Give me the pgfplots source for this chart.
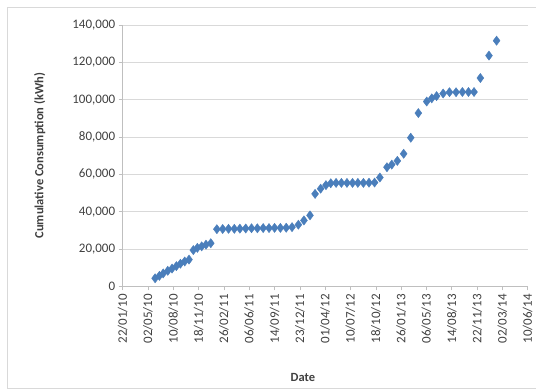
\documentclass[border=0pt]{standalone}
\usepackage{pgfplots}
\pgfplotsset{compat=1.18}
\usepackage{fontspec}
\setmainfont{Carlito}

\definecolor{markblue}{HTML}{4A7EBB}
\definecolor{gridgray}{HTML}{D9D9D9}
\definecolor{axisgray}{HTML}{BFBFBF}
\definecolor{textgray}{HTML}{404040}

% Cumulative meter readings: Excel date serial, kWh
\pgfplotstableread{
date value
40328 4300
40345 5600
40360 6900
40378 8300
40395 9500
40412 10800
40428 12100
40445 13300
40462 14300
40479 19400
40495 20600
40512 21400
40529 22300
40548 23100
40572 30600
40595 30700
40618 30800
40641 30800
40663 30900
40686 31000
40709 31100
40732 31100
40755 31200
40778 31200
40800 31300
40823 31300
40846 31400
40869 31700
40894 33000
40916 35300
40940 38000
40960 49500
40982 52300
41003 54200
41022 55200
41043 55400
41064 55400
41086 55400
41108 55400
41129 55400
41151 55400
41173 55500
41195 55600
41216 58300
41244 63800
41263 65200
41285 67200
41310 71000
41338 79600
41368 92800
41401 99000
41421 100700
41440 101900
41466 103300
41491 104000
41517 104000
41542 104100
41566 104100
41588 104100
41613 111600
41647 123600
41677 131600
}\readings

\begin{document}
\begin{tikzpicture}
% page: 536 x 389, plot area's lower-left corner at (122.7, 102.7)
\useasboundingbox (-122.7pt,-102.7pt) rectangle (413.3pt,286.3pt);
\draw[gridgray, line width=0.8pt] (-115.7pt,-101.7pt) rectangle (422.3pt,279.3pt);
\begin{axis}[
  scale only axis, width=405pt, height=261.3pt,
  xmin=40200, xmax=41800, ymin=0, ymax=140000,
  xtick={40200,40300,...,41800},
  xticklabels={22/01/10,02/05/10,10/08/10,18/11/10,26/02/11,06/06/11,14/09/11,23/12/11,01/04/12,10/07/12,18/10/12,26/01/13,06/05/13,14/08/13,22/11/13,02/03/14,10/06/14},
  ytick={0,20000,...,140000},
  scaled x ticks=false, scaled y ticks=false,
  /pgf/number format/fixed,
  /pgf/number format/1000 sep={,},
  /pgf/number format/assume math mode=true,
  x tick label style={rotate=90, anchor=east, font=\fontsize{13}{15}\selectfont, text=textgray},
  y tick label style={font=\fontsize{13}{15}\selectfont, text=textgray},
  axis line style={axisgray},
  axis x line*=bottom, axis y line*=left,
  tick style={axisgray, line width=0.6pt},
  tick align=outside, major tick length=4pt,
  ymajorgrids, grid style={gridgray, line width=0.8pt},
  xlabel={Date},
  ylabel={Cumulative Consumption (kWh)},
  xlabel style={at={(axis description cs:0.445,-0.35)}, anchor=center, font=\bfseries\fontsize{12.5}{14}\selectfont, text=textgray},
  ylabel style={at={(axis description cs:-0.205,0.5)}, anchor=center, font=\bfseries\fontsize{12.5}{14}\selectfont, text=textgray},
  clip=false,
]
\addplot[only marks, mark=diamond*, mark size=4.6pt, mark options={fill=markblue, draw=markblue}] table[x=date, y=value] {\readings};
\end{axis}
\end{tikzpicture}
\end{document}
